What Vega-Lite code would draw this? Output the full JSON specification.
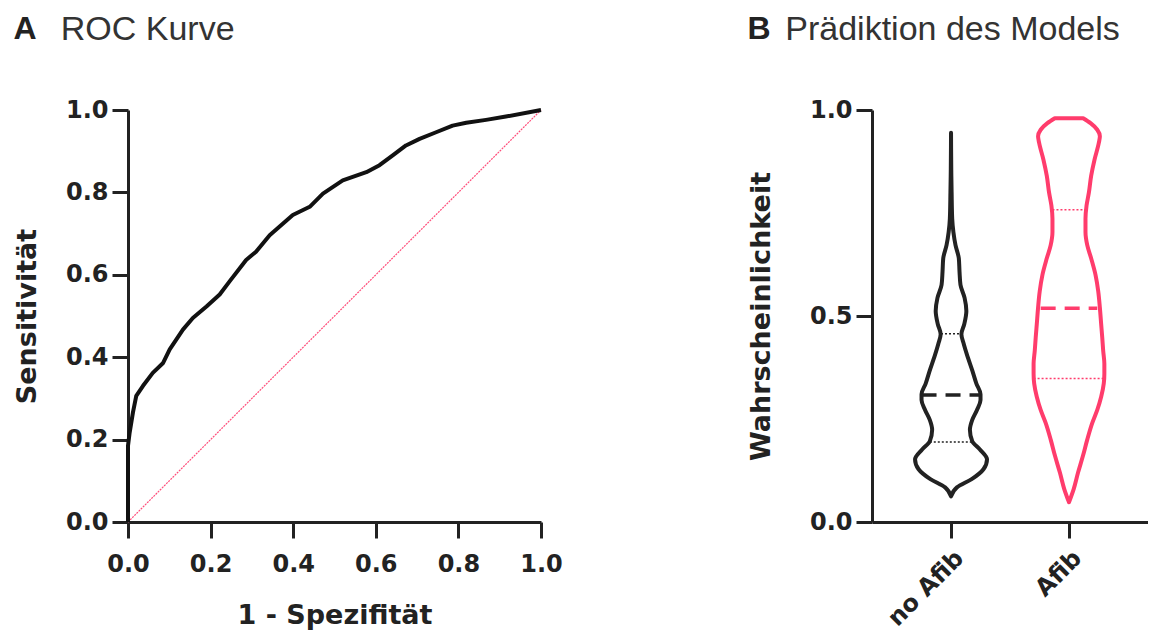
{
  "$schema": "https://vega.github.io/schema/vega-lite/v6.json",
  "padding": {"left": 13, "top": 13, "right": 0, "bottom": 0},
  "background": "white",
  "config": {
    "font": "DejaVu Sans",
    "view": {"stroke": null},
    "axis": {"grid": false, "labelFlush": false, "domainColor": "#222222", "domainWidth": 3, "tickColor": "#222222", "tickWidth": 3, "tickSize": 16, "labelFont": "DejaVu Sans", "labelFontWeight": "bold", "labelFontSize": 24, "labelColor": "#222222", "titleFont": "DejaVu Sans", "titleFontWeight": "bold", "titleFontSize": 27, "titleColor": "#222222", "labelPadding": 4},
    "title": {"font": "Liberation Sans", "fontSize": 32, "fontWeight": "bold", "color": "#222222", "anchor": "start", "offset": 50, "subtitleFont": "Liberation Sans", "subtitleFontSize": 34, "subtitleFontWeight": "normal", "subtitleColor": "#333333", "subtitlePadding": -33},
    "concat": {"spacing": 184}
  },
  "hconcat": [
    {
      "title": {"text": "A", "subtitle": "\u200b\u00a0\u00a0\u00a0\u00a0\u00a0ROC Kurve"},
      "width": 413,
      "height": 412,
      "layer": [
        {
          "data": {"values": [{"fpr": 0, "tpr": 0}, {"fpr": 1, "tpr": 1}]},
          "mark": {"type": "line", "color": "#ff4d7a", "strokeWidth": 1.2, "strokeDash": [2, 1]},
          "encoding": {
            "x": {"field": "fpr", "type": "quantitative"},
            "y": {"field": "tpr", "type": "quantitative"}
          }
        },
        {
          "data": {"values": [
            {"fpr": 0, "tpr": 0}, {"fpr": 0, "tpr": 0.185}, {"fpr": 0.004, "tpr": 0.217}, {"fpr": 0.012, "tpr": 0.266},
            {"fpr": 0.02, "tpr": 0.306}, {"fpr": 0.036, "tpr": 0.33}, {"fpr": 0.06, "tpr": 0.362}, {"fpr": 0.085, "tpr": 0.386},
            {"fpr": 0.101, "tpr": 0.419}, {"fpr": 0.133, "tpr": 0.467}, {"fpr": 0.157, "tpr": 0.495}, {"fpr": 0.19, "tpr": 0.523},
            {"fpr": 0.222, "tpr": 0.552}, {"fpr": 0.246, "tpr": 0.584}, {"fpr": 0.286, "tpr": 0.636}, {"fpr": 0.31, "tpr": 0.656},
            {"fpr": 0.343, "tpr": 0.696}, {"fpr": 0.399, "tpr": 0.745}, {"fpr": 0.44, "tpr": 0.765}, {"fpr": 0.472, "tpr": 0.797},
            {"fpr": 0.52, "tpr": 0.829}, {"fpr": 0.577, "tpr": 0.849}, {"fpr": 0.609, "tpr": 0.866}, {"fpr": 0.641, "tpr": 0.89},
            {"fpr": 0.673, "tpr": 0.914}, {"fpr": 0.706, "tpr": 0.93}, {"fpr": 0.746, "tpr": 0.946}, {"fpr": 0.786, "tpr": 0.962},
            {"fpr": 0.819, "tpr": 0.969}, {"fpr": 0.867, "tpr": 0.976}, {"fpr": 0.915, "tpr": 0.984}, {"fpr": 1, "tpr": 1}
          ]},
          "mark": {"type": "line", "color": "#111111", "strokeWidth": 4, "strokeJoin": "round"},
          "encoding": {
            "x": {"field": "fpr", "type": "quantitative", "scale": {"domain": [0, 1], "nice": false}, "axis": {"values": [0, 0.2, 0.4, 0.6, 0.8, 1], "format": ".1f", "title": "1 - Spezifität", "titlePadding": 26, "labelPadding": 14}},
            "y": {"field": "tpr", "type": "quantitative", "scale": {"domain": [0, 1], "nice": false}, "axis": {"values": [0, 0.2, 0.4, 0.6, 0.8, 1], "format": ".1f", "title": "Sensitivität", "titlePadding": 24}},
            "order": {"field": "tpr", "type": "quantitative"}
          }
        }
      ]
    },
    {
      "title": {"text": "B", "subtitle": "\u200b\u00a0\u00a0\u00a0\u00a0Prädiktion des Models"},
      "width": 276,
      "height": 412,
      "layer": [
        {
          "data": {"values": [
            {"g": "no Afib", "p": 0.062, "lo": 1.0, "hi": 1.0},
            {"g": "no Afib", "p": 0.084, "lo": 0.95, "hi": 1.05},
            {"g": "no Afib", "p": 0.104, "lo": 0.825, "hi": 1.175},
            {"g": "no Afib", "p": 0.128, "lo": 0.725, "hi": 1.275},
            {"g": "no Afib", "p": 0.152, "lo": 0.695, "hi": 1.305},
            {"g": "no Afib", "p": 0.176, "lo": 0.755, "hi": 1.245},
            {"g": "no Afib", "p": 0.196, "lo": 0.82, "hi": 1.18},
            {"g": "no Afib", "p": 0.224, "lo": 0.84, "hi": 1.16},
            {"g": "no Afib", "p": 0.248, "lo": 0.82, "hi": 1.18},
            {"g": "no Afib", "p": 0.272, "lo": 0.78, "hi": 1.22},
            {"g": "no Afib", "p": 0.296, "lo": 0.75, "hi": 1.25},
            {"g": "no Afib", "p": 0.31, "lo": 0.75, "hi": 1.25},
            {"g": "no Afib", "p": 0.336, "lo": 0.785, "hi": 1.215},
            {"g": "no Afib", "p": 0.368, "lo": 0.82, "hi": 1.18},
            {"g": "no Afib", "p": 0.4, "lo": 0.858, "hi": 1.142},
            {"g": "no Afib", "p": 0.432, "lo": 0.892, "hi": 1.108},
            {"g": "no Afib", "p": 0.456, "lo": 0.912, "hi": 1.088},
            {"g": "no Afib", "p": 0.48, "lo": 0.888, "hi": 1.112},
            {"g": "no Afib", "p": 0.512, "lo": 0.87, "hi": 1.13},
            {"g": "no Afib", "p": 0.544, "lo": 0.885, "hi": 1.115},
            {"g": "no Afib", "p": 0.576, "lo": 0.92, "hi": 1.08},
            {"g": "no Afib", "p": 0.608, "lo": 0.928, "hi": 1.072},
            {"g": "no Afib", "p": 0.64, "lo": 0.934, "hi": 1.066},
            {"g": "no Afib", "p": 0.672, "lo": 0.962, "hi": 1.038},
            {"g": "no Afib", "p": 0.704, "lo": 0.98, "hi": 1.02},
            {"g": "no Afib", "p": 0.736, "lo": 0.99, "hi": 1.01},
            {"g": "no Afib", "p": 0.8, "lo": 0.995, "hi": 1.005},
            {"g": "no Afib", "p": 0.856, "lo": 0.998, "hi": 1.002},
            {"g": "no Afib", "p": 0.945, "lo": 1.0, "hi": 1.0},
            {"g": "Afib", "p": 0.048, "lo": 2.0, "hi": 2.0},
            {"g": "Afib", "p": 0.08, "lo": 1.96, "hi": 2.04},
            {"g": "Afib", "p": 0.12, "lo": 1.923, "hi": 2.077},
            {"g": "Afib", "p": 0.16, "lo": 1.882, "hi": 2.118},
            {"g": "Afib", "p": 0.2, "lo": 1.845, "hi": 2.155},
            {"g": "Afib", "p": 0.24, "lo": 1.803, "hi": 2.197},
            {"g": "Afib", "p": 0.272, "lo": 1.76, "hi": 2.24},
            {"g": "Afib", "p": 0.304, "lo": 1.727, "hi": 2.273},
            {"g": "Afib", "p": 0.336, "lo": 1.705, "hi": 2.295},
            {"g": "Afib", "p": 0.36, "lo": 1.7, "hi": 2.3},
            {"g": "Afib", "p": 0.384, "lo": 1.7, "hi": 2.3},
            {"g": "Afib", "p": 0.416, "lo": 1.71, "hi": 2.29},
            {"g": "Afib", "p": 0.448, "lo": 1.718, "hi": 2.282},
            {"g": "Afib", "p": 0.48, "lo": 1.727, "hi": 2.273},
            {"g": "Afib", "p": 0.52, "lo": 1.738, "hi": 2.262},
            {"g": "Afib", "p": 0.56, "lo": 1.752, "hi": 2.248},
            {"g": "Afib", "p": 0.6, "lo": 1.775, "hi": 2.225},
            {"g": "Afib", "p": 0.64, "lo": 1.812, "hi": 2.188},
            {"g": "Afib", "p": 0.672, "lo": 1.845, "hi": 2.155},
            {"g": "Afib", "p": 0.704, "lo": 1.86, "hi": 2.14},
            {"g": "Afib", "p": 0.736, "lo": 1.86, "hi": 2.14},
            {"g": "Afib", "p": 0.768, "lo": 1.851, "hi": 2.149},
            {"g": "Afib", "p": 0.8, "lo": 1.831, "hi": 2.169},
            {"g": "Afib", "p": 0.84, "lo": 1.812, "hi": 2.188},
            {"g": "Afib", "p": 0.88, "lo": 1.783, "hi": 2.217},
            {"g": "Afib", "p": 0.92, "lo": 1.747, "hi": 2.253},
            {"g": "Afib", "p": 0.936, "lo": 1.738, "hi": 2.262},
            {"g": "Afib", "p": 0.952, "lo": 1.76, "hi": 2.24},
            {"g": "Afib", "p": 0.968, "lo": 1.817, "hi": 2.183},
            {"g": "Afib", "p": 0.98, "lo": 1.88, "hi": 2.12}
          ]},
          "mark": {"type": "area", "orient": "horizontal", "fillOpacity": 0, "strokeWidth": 4, "strokeJoin": "round", "interpolate": "monotone"},
          "encoding": {
            "y": {"field": "p", "type": "quantitative", "scale": {"domain": [0, 1], "nice": false}, "axis": {"values": [0, 0.5, 1], "format": ".1f", "title": "Wahrscheinlichkeit", "titlePadding": 34}},
            "x": {"field": "lo", "type": "quantitative", "scale": {"domain": [0.33, 2.67], "nice": false, "zero": false}, "axis": {"values": [1, 2], "labelExpr": "datum.value == 1 ? 'no Afib' : 'Afib'", "labelAngle": -45, "title": null, "labelPadding": 8}},
            "x2": {"field": "hi"},
            "stroke": {"field": "g", "type": "nominal", "scale": {"domain": ["no Afib", "Afib"], "range": ["#222222", "#ff3c6c"]}, "legend": null}
          }
        },
        {
          "data": {"values": [
            {"g": "no Afib", "kind": "median", "p": 0.308, "lo": 0.75, "hi": 1.25},
            {"g": "Afib", "kind": "median", "p": 0.519, "lo": 1.76, "hi": 2.24}
          ]},
          "mark": {"type": "rule", "strokeWidth": 3.5, "strokeDash": [15, 9]},
          "encoding": {
            "y": {"field": "p", "type": "quantitative"},
            "x": {"field": "lo", "type": "quantitative"},
            "x2": {"field": "hi"},
            "stroke": {"field": "g", "type": "nominal", "legend": null}
          }
        },
        {
          "data": {"values": [
            {"g": "no Afib", "kind": "quartile", "p": 0.457, "lo": 0.915, "hi": 1.085},
            {"g": "no Afib", "kind": "quartile", "p": 0.194, "lo": 0.82, "hi": 1.18},
            {"g": "Afib", "kind": "quartile", "p": 0.758, "lo": 1.86, "hi": 2.14},
            {"g": "Afib", "kind": "quartile", "p": 0.348, "lo": 1.7, "hi": 2.3}
          ]},
          "mark": {"type": "rule", "strokeWidth": 1.5, "strokeDash": [2, 2]},
          "encoding": {
            "y": {"field": "p", "type": "quantitative"},
            "x": {"field": "lo", "type": "quantitative"},
            "x2": {"field": "hi"},
            "stroke": {"field": "g", "type": "nominal", "legend": null}
          }
        }
      ]
    }
  ]
}
